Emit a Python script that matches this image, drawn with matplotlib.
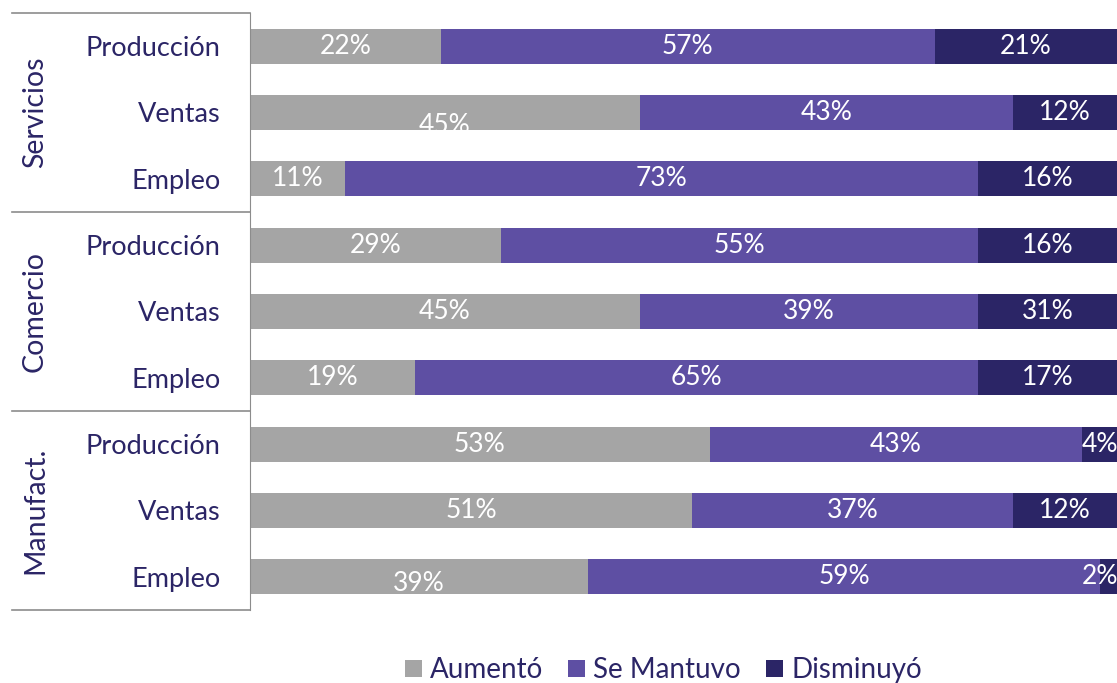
import matplotlib.pyplot as plt

# Datos (de arriba hacia abajo)
grupos = ['Servicios', 'Comercio', 'Manufact.']
categorias = ['Producción', 'Ventas', 'Empleo'] * 3
aumento = [22, 45, 11, 29, 45, 19, 53, 51, 39]
mantuvo = [57, 43, 73, 55, 39, 65, 43, 37, 59]
disminuyo = [21, 12, 16, 16, 31, 17, 4, 12, 2]
series = ['Aumentó', 'Se Mantuvo', 'Disminuyó']

colores = ['#a5a5a5', '#5e4fa3', '#2b2566']
texto = '#2b2566'
plt.rcParams['font.family'] = ['Lato', 'DejaVu Sans']

fig = plt.figure(figsize=(11.17, 6.83), dpi=100)
ax = fig.add_axes([250 / 1117, 1 - 610 / 683, 867 / 1117, 597 / 683])

n = len(categorias)
y = list(range(n))
izq = [0] * n
# pequeño desplazamiento vertical de algunas etiquetas (como en el original)
desplaz = {(0, 1): 0.2, (0, 8): 0.1}
for s, (vals, col) in enumerate(zip([aumento, mantuvo, disminuyo], colores)):
    ax.barh(y, vals, left=izq, height=0.53, color=col, label=series[s])
    for i, v in enumerate(vals):
        ini = izq[i]
        fin = min(ini + v, 100)
        xc = min((ini + fin) / 2, 98)
        ax.text(xc, y[i] + desplaz.get((s, i), 0), f'{v}%', ha='center', va='center',
                color='white', fontsize=19)
    izq = [a + b for a, b in zip(izq, vals)]

ax.set_xlim(0, 100)
ax.set_ylim(n - 0.5, -0.5)
ax.set_xticks([])
ax.set_yticks(y)
ax.set_yticklabels(categorias, fontsize=19.5, color=texto)
ax.tick_params(axis='y', length=0, pad=21)
for lado in ['top', 'right', 'bottom']:
    ax.spines[lado].set_visible(False)
ax.spines['left'].set_color('#8c8c8c')

# lineas separadoras y nombres de grupo
x0 = -238 / 867 * 100
for k in range(4):
    yy = k * 3 - 0.5
    ax.plot([x0, 0], [yy, yy], color='#8c8c8c', lw=1.2, clip_on=False)
for k, g in enumerate(grupos):
    ax.text(-215 / 867 * 100, k * 3 + 1, g, rotation=90, ha='center', va='center',
            fontsize=20.5, color=texto)

leg = fig.legend(loc='lower center', bbox_to_anchor=(0.594, -0.037), ncol=3, frameon=False,
                 fontsize=20, handlelength=0.6, handleheight=0.6, handletextpad=0.3,
                 columnspacing=0.9)
for t in leg.get_texts():
    t.set_color(texto)

fig.savefig('out.png', dpi=100)
